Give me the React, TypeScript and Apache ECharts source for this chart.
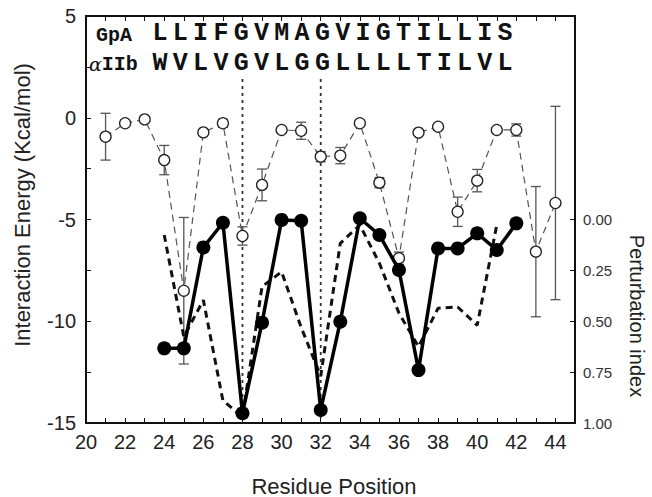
import React, { useEffect, useRef } from "react";
import * as echarts from "echarts";

// ---- Data ----
const expResidues = [21, 22, 23, 24, 25, 26, 27, 28, 29, 30, 31, 32, 33, 34, 35, 36, 37, 38, 39, 40, 41, 42, 43, 44];
const expEnergy = [-0.93, -0.27, -0.08, -2.08, -8.5, -0.72, -0.27, -5.81, -3.3, -0.6, -0.64, -1.91, -1.86, -0.27, -3.19, -6.9, -0.73, -0.44, -4.62, -3.09, -0.6, -0.6, -6.58, -4.19];
const expError = [1.15, 0.15, 0.1, 0.72, 3.6, 0.1, 0.2, 0.45, 0.78, 0.1, 0.42, 0.25, 0.4, 0.1, 0.25, 0.3, 0.1, 0.1, 0.72, 0.55, 0.1, 0.3, 3.2, 4.75];

const calcResidues = [24, 25, 26, 27, 28, 29, 30, 31, 32, 33, 34, 35, 36, 37, 38, 39, 40, 41, 42];
const calcEnergy = [-11.33, -11.33, -6.37, -5.16, -14.52, -10.07, -5.02, -5.06, -14.36, -10.02, -4.94, -5.76, -7.48, -12.4, -6.42, -6.42, -5.68, -6.5, -5.19];

const pertResidues = [24, 25, 26, 27, 28, 29, 30, 31, 32, 33, 34, 35, 36, 37, 38, 39, 40, 41];
const perturbation = [0.076, 0.576, 0.396, 0.89, 0.97, 0.33, 0.257, 0.53, 0.77, 0.117, 0.027, 0.215, 0.46, 0.625, 0.436, 0.43, 0.52, 0.027];

const markedResidues = [28, 32];
const markedTop = 1.9;

const seqGpA = "LLIFGVMAGVIGTILLIS";
const seqAIIb = "WVLVGVLGGLLLLTILVL";

const xMin = 20;
const xMax = 45;
const yMin = -15;
const yMax = 5;

const SANS = "'Liberation Sans', Arial, 'DejaVu Sans', sans-serif";
const MONO = "'Liberation Mono', 'Courier New', 'DejaVu Sans Mono', monospace";

export default function App() {
  const ref = useRef<HTMLDivElement>(null);

  useEffect(() => {
    if (!ref.current) return;
    const chart = echarts.init(ref.current, null, { renderer: "svg" });

    const letters = (seq: string, cy: number) =>
      seq.split("").map((ch, i) => ({
        type: "text",
        x: 160 + i * 20.3,
        y: cy,
        style: {
          text: ch,
          fontSize: 25,
          fontWeight: "bold",
          fontFamily: MONO,
          fill: "#111",
          textAlign: "center",
          textVerticalAlign: "middle",
        },
      }));

    const option: any = {
      animation: false,
      backgroundColor: "#fff",
      grid: [
        { left: 86, right: 77, top: 16, bottom: 74 },
        { left: 86, right: 77, top: 219.5, bottom: 74 },
      ],
      xAxis: [
        {
          type: "value",
          gridIndex: 0,
          position: "bottom",
          min: xMin,
          max: xMax,
          interval: 1,
          axisLine: { show: true, onZero: false, lineStyle: { color: "#111", width: 2 } },
          axisTick: { show: true, inside: true, length: 5, lineStyle: { color: "#111", width: 1 } },
          axisLabel: {
            formatter: (v: number) => (v % 2 === 0 && v < xMax ? String(v) : ""),
            fontSize: 20,
            fontFamily: SANS,
            color: "#222",
            margin: 9,
          },
          splitLine: { show: false },
        },
        {
          type: "value",
          gridIndex: 0,
          position: "top",
          min: xMin,
          max: xMax,
          interval: 1,
          axisLine: { show: true, onZero: false, lineStyle: { color: "#111", width: 2 } },
          axisTick: { show: true, inside: true, length: 5, lineStyle: { color: "#111", width: 1 } },
          axisLabel: { show: false },
          splitLine: { show: false },
        },
        {
          type: "value",
          gridIndex: 1,
          min: xMin,
          max: xMax,
          show: false,
        },
      ],
      yAxis: [
        {
          type: "value",
          gridIndex: 0,
          position: "left",
          min: yMin,
          max: yMax,
          interval: 2.5,
          axisLine: { show: true, onZero: false, lineStyle: { color: "#111", width: 2 } },
          axisTick: { show: true, inside: true, length: 5, lineStyle: { color: "#111", width: 1 } },
          axisLabel: {
            formatter: (v: number) => (v % 5 === 0 ? String(v) : ""),
            fontSize: 20,
            fontFamily: SANS,
            color: "#222",
            margin: 10,
          },
          splitLine: { show: false },
        },
        {
          type: "value",
          gridIndex: 0,
          position: "right",
          min: yMin,
          max: yMax,
          axisLine: { show: true, onZero: false, lineStyle: { color: "#111", width: 2 } },
          axisTick: { show: false },
          axisLabel: { show: false },
          splitLine: { show: false },
        },
        {
          type: "value",
          gridIndex: 1,
          position: "right",
          inverse: true,
          min: 0,
          max: 1,
          interval: 0.25,
          axisLine: { show: false },
          axisTick: { show: true, inside: true, length: 5, lineStyle: { color: "#111", width: 1 } },
          axisLabel: {
            formatter: (v: number) => v.toFixed(2),
            fontSize: 15,
            fontFamily: SANS,
            color: "#333",
            margin: 8,
          },
          splitLine: { show: false },
        },
      ],
      series: [
        {
          type: "custom",
          name: "marks",
          xAxisIndex: 0,
          yAxisIndex: 0,
          z: 1,
          data: markedResidues.map((r) => [r, markedTop, yMin]),
          renderItem: (params: any, api: any) => {
            const p1 = api.coord([api.value(0), api.value(1)]);
            const p2 = api.coord([api.value(0), api.value(2)]);
            return {
              type: "line",
              shape: { x1: p1[0], y1: p1[1], x2: p2[0], y2: p2[1] },
              style: { stroke: "#333", lineWidth: 1.8, lineDash: [3, 4] },
            };
          },
        },
        {
          type: "custom",
          name: "errors",
          xAxisIndex: 0,
          yAxisIndex: 0,
          z: 2,
          data: expResidues.map((r, i) => [r, expEnergy[i], expError[i]]),
          renderItem: (params: any, api: any) => {
            const x = api.value(0);
            const v = api.value(1);
            const e = api.value(2);
            const top = api.coord([x, v + e]);
            const bot = api.coord([x, v - e]);
            const w = 5;
            const st = { stroke: "#555", lineWidth: 1.3 };
            return {
              type: "group",
              children: [
                { type: "line", shape: { x1: top[0], y1: top[1], x2: bot[0], y2: bot[1] }, style: st },
                { type: "line", shape: { x1: top[0] - w, y1: top[1], x2: top[0] + w, y2: top[1] }, style: st },
                { type: "line", shape: { x1: bot[0] - w, y1: bot[1], x2: bot[0] + w, y2: bot[1] }, style: st },
              ],
            };
          },
        },
        {
          type: "line",
          name: "perturbation",
          xAxisIndex: 2,
          yAxisIndex: 2,
          z: 3,
          symbol: "none",
          data: pertResidues.map((r, i) => [r, perturbation[i]]),
          lineStyle: { color: "#111", width: 3, type: [7, 5] },
        },
        {
          type: "line",
          name: "experimental",
          xAxisIndex: 0,
          yAxisIndex: 0,
          z: 4,
          symbol: "circle",
          symbolSize: 11,
          data: expResidues.map((r, i) => [r, expEnergy[i]]),
          lineStyle: { color: "#555", width: 1.2, type: [7, 5] },
          itemStyle: { color: "#fff", borderColor: "#222", borderWidth: 1.3 },
        },
        {
          type: "line",
          name: "calculated",
          xAxisIndex: 0,
          yAxisIndex: 0,
          z: 5,
          symbol: "circle",
          symbolSize: 14,
          data: calcResidues.map((r, i) => [r, calcEnergy[i]]),
          lineStyle: { color: "#000", width: 3.5 },
          itemStyle: { color: "#000" },
        },
      ],
      graphic: [
        {
          type: "text",
          x: 22,
          y: 205,
          rotation: Math.PI / 2,
          style: {
            text: "Interaction Energy (Kcal/mol)",
            fontSize: 22,
            fontFamily: SANS,
            fill: "#222",
            textAlign: "center",
            textVerticalAlign: "middle",
          },
        },
        {
          type: "text",
          x: 334,
          y: 486,
          style: {
            text: "Residue Position",
            fontSize: 22,
            fontFamily: SANS,
            fill: "#222",
            textAlign: "center",
            textVerticalAlign: "middle",
          },
        },
        {
          type: "text",
          x: 637,
          y: 316,
          rotation: -Math.PI / 2,
          style: {
            text: "Perturbation index",
            fontSize: 20,
            fontFamily: SANS,
            fill: "#222",
            textAlign: "center",
            textVerticalAlign: "middle",
          },
        },
        {
          type: "text",
          x: 96,
          y: 35,
          style: {
            text: "GpA",
            fontSize: 20,
            fontWeight: "bold",
            fontFamily: MONO,
            fill: "#111",
            textAlign: "left",
            textVerticalAlign: "middle",
          },
        },
        {
          type: "text",
          x: 89,
          y: 64,
          style: {
            text: "{a|α}{b|IIb}",
            textAlign: "left",
            textVerticalAlign: "middle",
            rich: {
              a: { fontSize: 19, fontStyle: "italic", fontFamily: "'DejaVu Serif', serif", fill: "#111", color: "#111" },
              b: { fontSize: 20, fontWeight: "bold", fontFamily: MONO, fill: "#111", color: "#111" },
            },
          },
        },
        ...letters(seqGpA, 33),
        ...letters(seqAIIb, 63),
      ],
    };

    chart.setOption(option);
    return () => chart.dispose();
  }, []);

  return (
    <div
      ref={ref}
      style={{ position: "absolute", left: 0, top: 0, width: 652, height: 497, background: "#fff" }}
    />
  );
}
